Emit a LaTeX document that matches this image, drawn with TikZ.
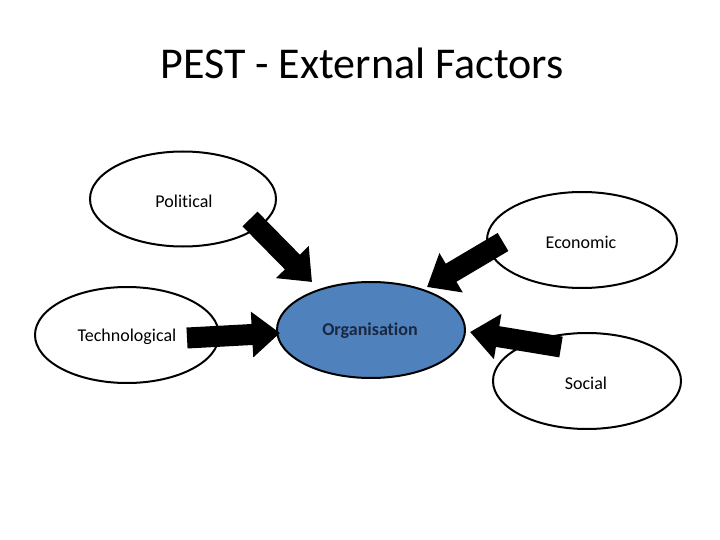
\documentclass[tikz,border=0pt]{standalone}
\usepackage{fontspec}
\setmainfont{Carlito}[Ligatures={NoCommon}]
\usetikzlibrary{shapes.geometric,arrows.meta}
\definecolor{orgblue}{HTML}{4F81BD}
\definecolor{orgtext}{HTML}{1B2741}
\tikzset{
  factor/.style={ellipse, draw=black, line width=2pt, fill=white, inner sep=0pt,
    minimum width=188pt, minimum height=96pt},
  factorlabel/.style={font=\fontsize{18}{21}\selectfont, inner sep=0pt},
  blockarrow/.style={line width=21pt, draw=black, line cap=butt,
    -{Triangle[width=44pt,length=28pt]}}
}
\begin{document}
\begin{tikzpicture}[x=1pt,y=-1pt]
\useasboundingbox (0,0) rectangle (720,540);
\node (title) at (362,63) {\fontsize{44}{50}\selectfont PEST - External Factors};
\node[factor, minimum width=186pt, minimum height=95pt] (pol) at (183,199) {};
\node[factorlabel] (pollabel) at (184,201) {Political};
\node[factor, minimum width=190pt] (eco) at (582,240) {};
\node[factorlabel] (ecolabel) at (581,242) {Economic};
\node[factor, minimum width=184pt] (tec) at (127,335) {};
\node[factorlabel] (teclabel) at (127,337) {Technological};
\node[factor, fill=orgblue, minimum width=188pt] (org) at (371,330) {};
\node[factorlabel, font=\fontsize{18}{21}\selectfont\bfseries, text=orgtext] (orglabel) at (370,331) {Organisation};
\node[factor] (soc) at (587,381) {};
\node[factorlabel] (soclabel) at (586,383) {Social};
\coordinate (poltail) at (250,219);
\coordinate (poltip) at (312,282);
\coordinate (ecotail) at (503,242);
\coordinate (ecotip) at (427,287);
\coordinate (tectail) at (187,338);
\coordinate (tectip) at (280,333);
\coordinate (soctail) at (561,347);
\coordinate (soctip) at (470,332);
\draw[blockarrow] (poltail) -- (poltip);
\draw[blockarrow] (ecotail) -- (ecotip);
\draw[blockarrow] (tectail) -- (tectip);
\draw[blockarrow] (soctail) -- (soctip);
\end{tikzpicture}
\end{document}
